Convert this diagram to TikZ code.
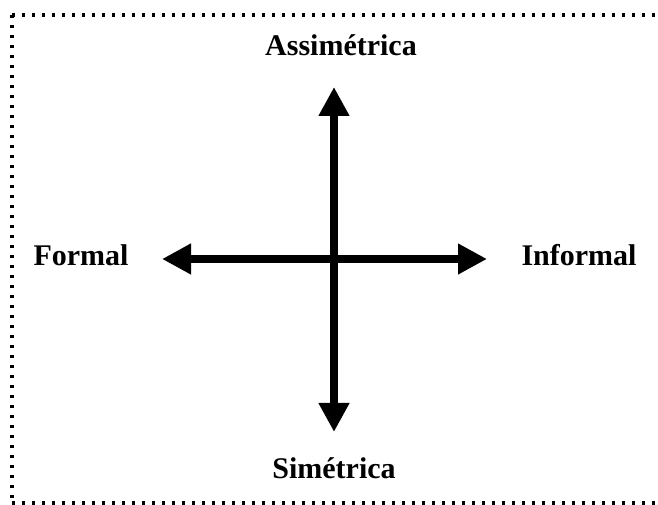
\documentclass[tikz,border=0pt]{standalone}
\usepackage{fontspec}
\setmainfont{Liberation Serif}
\usepackage{tikz}
\usetikzlibrary{arrows.meta,positioning}
\definecolor{axInk}{RGB}{0,0,0}

\begin{document}
\begin{tikzpicture}[
  x=0.75pt,y=-0.75pt,
  lbl/.style={font=\fontsize{22.5}{27}\selectfont\bfseries,color=axInk,
              inner sep=0pt,anchor=base},
  axis/.style={line width=6pt,color=axInk,
               {Triangle[length=21.75pt,width=21.75pt]}-{Triangle[length=21.75pt,width=21.75pt]}},
  frame/.style={line width=2.6pt,color=axInk,dash pattern=on 2.6pt off 4.9pt}
]
\useasboundingbox (0,0) rectangle (658,505);
\clip (0,0) rectangle (658,505);

% --- dotted frame (right side falls outside the page)
\coordinate (fNW) at (12,15);
\coordinate (fSW) at (12,503);
\draw[frame] (fNW) -- (fSW);
\draw[frame] (fNW) -- (670,15);
\draw[frame] (fSW) -- (670,503);

% --- axis end points
\coordinate (O) at (334,259);
\coordinate (top) at (334,87);
\coordinate (bot) at (334,432);
\coordinate (lft) at (162,259);
\coordinate (rgt) at (487,259);

\draw[axis] (bot) -- (top);
\draw[axis] (lft) -- (rgt);

% --- labels
\node[lbl] (assim) at (341,56) {Assimétrica};
\node[lbl] (simet) at (334,479) {Simétrica};
\node[lbl] (formal) at (81,266) {Formal};
\node[lbl] (inform) at (579,266) {Informal};
\end{tikzpicture}
\end{document}
